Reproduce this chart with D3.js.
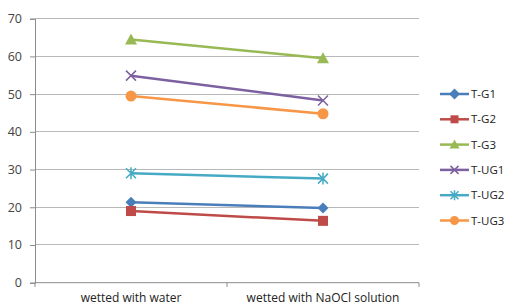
<!DOCTYPE html>
<html><head><meta charset="utf-8">
<script src="https://cdn.jsdelivr.net/npm/d3@7"></script>
<style>body{margin:0;background:#fff;}svg{display:block;font-family:"Open Sans","Liberation Sans",sans-serif;}</style>
</head><body><svg id="c" width="512" height="307"></svg>
<script>
const categories = ["wetted with water", "wetted with NaOCl solution"];
const seriesNames = ["T-G1", "T-G2", "T-G3", "T-UG1", "T-UG2", "T-UG3"];
const tG1 = [21.3, 19.8];
const tG2 = [19.0, 16.4];
const tG3 = [64.5, 59.5];
const tUG1 = [54.9, 48.3];
const tUG2 = [29.0, 27.6];
const tUG3 = [49.5, 44.8];
const yTicks = [0, 10, 20, 30, 40, 50, 60, 70];
const colors = ["#4a7ebb", "#be4b48", "#98b954", "#7d60a0", "#46aac5", "#f79646"];
const markers = ["diamond", "square", "triangle", "x", "star", "circle"];
const values = [tG1, tG2, tG3, tUG1, tUG2, tUG3];

const svg = d3.select("#c");
const x = d3.scaleBand().domain(categories).range([35, 419]);
const y = d3.scaleLinear().domain([0, 70]).range([282.7, 18.7]);

// gridlines
svg.append("g").selectAll("line").data(yTicks.filter(d => d > 0)).join("line")
  .attr("x1", 35).attr("x2", 419).attr("y1", d => y(d)).attr("y2", d => y(d))
  .attr("stroke", "#b8b8b8").attr("stroke-width", 1).attr("shape-rendering", "crispEdges");

// y axis
const ya = svg.append("g").attr("transform", "translate(35,0)")
  .call(d3.axisLeft(y).tickValues(yTicks).tickSize(5).tickPadding(8));
ya.select(".domain").attr("stroke", "#8c8c8c");
ya.selectAll(".tick line").attr("stroke", "#8c8c8c");
ya.selectAll("text").attr("font-size", 12.5).attr("fill", "#444").attr("font-family", "'Open Sans',sans-serif");

// x axis
const xa = svg.append("g").attr("transform", "translate(0,282.7)")
  .call(d3.axisBottom(x).tickSize(0).tickPadding(11));
xa.select(".domain").attr("stroke", "#8c8c8c").attr("d", "M35,0H419");
xa.selectAll("text").attr("font-size", 12).attr("fill", "#222").attr("font-family", "'Open Sans',sans-serif");
svg.append("g").selectAll("line").data([35, 35 + x.step(), 35 + 2 * x.step()]).join("line")
  .attr("x1", d => d).attr("x2", d => d).attr("y1", 282.7).attr("y2", 287)
  .attr("stroke", "#8c8c8c");

function drawMarker(g, type, color, cx, cy, s) {
  if (type === "diamond") g.append("path").attr("d", `M${cx},${cy-5.5}L${cx+5.5},${cy}L${cx},${cy+5.5}L${cx-5.5},${cy}Z`).attr("fill", color);
  else if (type === "square") g.append("rect").attr("x", cx-s).attr("y", cy-s).attr("width", 2*s).attr("height", 2*s).attr("fill", color);
  else if (type === "triangle") g.append("path").attr("d", `M${cx},${cy-s-1}L${cx+s+1},${cy+s}L${cx-s-1},${cy+s}Z`).attr("fill", color);
  else if (type === "x") g.append("path").attr("d", `M${cx-s},${cy-s}L${cx+s},${cy+s}M${cx-s},${cy+s}L${cx+s},${cy-s}`).attr("stroke", color).attr("stroke-width", 1.5);
  else if (type === "star") g.append("path").attr("d", `M${cx-s},${cy-s}L${cx+s},${cy+s}M${cx-s},${cy+s}L${cx+s},${cy-s}M${cx},${cy-s-1}L${cx},${cy+s+1}`).attr("stroke", color).attr("stroke-width", 1.5);
  else if (type === "circle") g.append("circle").attr("cx", cx).attr("cy", cy).attr("r", s+0.5).attr("fill", color);
}

const line = d3.line().x((d, i) => x(categories[i]) + x.bandwidth() / 2).y(d => y(d));
values.forEach((vals, k) => {
  const g = svg.append("g");
  g.append("path").datum(vals).attr("d", line).attr("fill", "none")
    .attr("stroke", colors[k]).attr("stroke-width", 2.5);
  vals.forEach((v, i) => drawMarker(g, markers[k], colors[k], x(categories[i]) + x.bandwidth() / 2, y(v), 5));
});

// legend
const lg = svg.append("g");
seriesNames.forEach((n, k) => {
  const cy = 94 + k * 25.3;
  lg.append("line").attr("x1", 440).attr("x2", 469).attr("y1", cy).attr("y2", cy)
    .attr("stroke", colors[k]).attr("stroke-width", 2.5);
  drawMarker(lg, markers[k], colors[k], 454.5, cy, 4);
  lg.append("text").attr("x", 471).attr("y", cy).attr("dy", "0.35em")
    .attr("font-size", 11.5).attr("fill", "#222").text(n);
});
</script></body></html>
